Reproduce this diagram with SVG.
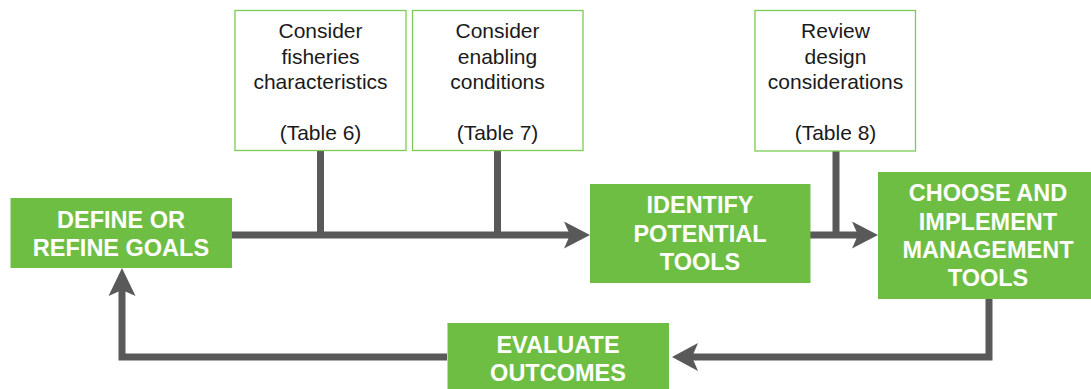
<svg xmlns="http://www.w3.org/2000/svg" width="1091" height="389" viewBox="0 0 1091 389">
<style>
.step{fill:#6fbe44}
.info{fill:#fff;stroke:#7ccb55;stroke-width:1.3}
.bt{font-family:"Liberation Sans",Arial,sans-serif;font-weight:bold;font-size:23.5px;fill:#fff;text-anchor:middle}
.lt{font-family:"Liberation Sans",Arial,sans-serif;font-size:21px;fill:#1a1a1a;text-anchor:middle}
.ln{fill:none;stroke:#595959;stroke-width:7}
.ah{fill:#595959}
</style>
<rect width="1091" height="389" fill="#fff"/>
<g id="connectors">
<path class="ln" d="M232,235 H572"/>
<path class="ln" d="M320.5,150 V235"/>
<path class="ln" d="M497.5,150 V235"/>
<path class="ln" d="M810,235 H860"/>
<path class="ln" d="M836,151 V235"/>
<path class="ln" d="M989,299 V357 H690"/>
<path class="ln" d="M447,357 H122 V285"/>
<polygon class="ah" points="590,235 564,221.5 570,235 564,248.5"/>
<polygon class="ah" points="878,235 852,221.5 858,235 852,248.5"/>
<polygon class="ah" points="672,357 698,343 692,357 698,371"/>
<polygon class="ah" points="122,268 108.5,296 122,290 135.5,296"/>
</g>
<g id="define-goals">
<rect class="step" x="10.5" y="198" width="221.5" height="70"/>
<text class="bt" x="121" y="228">DEFINE OR</text>
<text class="bt" x="121" y="255.5">REFINE GOALS</text>
</g>
<g id="fisheries">
<rect class="info" x="235" y="10.5" width="171" height="140"/>
<text class="lt" x="320.5" y="37.5">Consider</text>
<text class="lt" x="320.5" y="63.5">fisheries</text>
<text class="lt" x="320.5" y="89">characteristics</text>
<text class="lt" x="320.5" y="140">(Table 6)</text>
</g>
<g id="enabling">
<rect class="info" x="412.5" y="10.5" width="170.5" height="140"/>
<text class="lt" x="497.5" y="37.5">Consider</text>
<text class="lt" x="497.5" y="63.5">enabling</text>
<text class="lt" x="497.5" y="89">conditions</text>
<text class="lt" x="497.5" y="140">(Table 7)</text>
</g>
<g id="identify-tools">
<rect class="step" x="590" y="184" width="220.5" height="99"/>
<text class="bt" x="700" y="213">IDENTIFY</text>
<text class="bt" x="700" y="241.5">POTENTIAL</text>
<text class="bt" x="700" y="270">TOOLS</text>
</g>
<g id="design">
<rect class="info" x="755" y="10.5" width="160.5" height="140.5"/>
<text class="lt" x="835.5" y="37.5">Review</text>
<text class="lt" x="835.5" y="63.5">design</text>
<text class="lt" x="835.5" y="89">considerations</text>
<text class="lt" x="835.5" y="140">(Table 8)</text>
</g>
<g id="choose-tools">
<rect class="step" x="878" y="172" width="213" height="127"/>
<text class="bt" x="988" y="201">CHOOSE AND</text>
<text class="bt" x="988" y="229.5">IMPLEMENT</text>
<text class="bt" x="988" y="258">MANAGEMENT</text>
<text class="bt" x="988" y="286">TOOLS</text>
</g>
<g id="evaluate">
<rect class="step" x="447.5" y="323" width="221.5" height="66"/>
<text class="bt" x="558" y="352.5">EVALUATE</text>
<text class="bt" x="558" y="380.5">OUTCOMES</text>
</g>
</svg>
